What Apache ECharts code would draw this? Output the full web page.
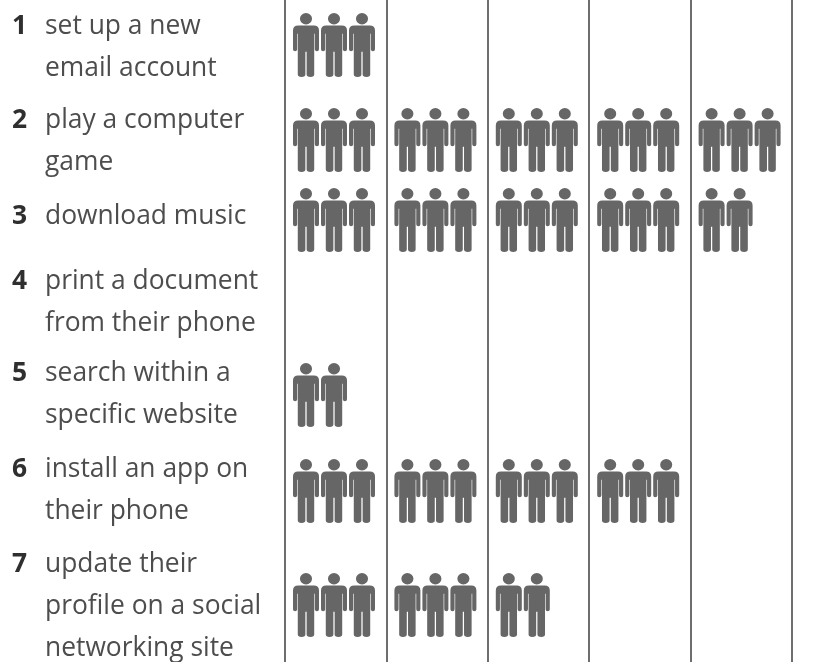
<!DOCTYPE html>
<html><head><meta charset="utf-8">
<style>html,body{margin:0;padding:0;background:#fff}#c{width:823px;height:662px}</style>
<script src="https://cdn.jsdelivr.net/npm/echarts@6/dist/echarts.min.js"></script>
</head><body><div id="c"></div>
<script>
const categories = ["set up a new\nemail account","play a computer\ngame","download music","print a document\nfrom their phone","search within a\nspecific website","install an app on\ntheir phone","update their\nprofile on a social\nnetworking site"];
const peopleCounts = [3,15,14,0,2,12,8];
const rowCenters = [45,140,220,300,395,491,605];
const labelTops = [5,99,195,260,352,448,543];
const PEOPLE_PER_COLUMN = 3;
const COLUMNS = 5;
const personPath = "path://M12.5 0A5.8 5.8 0 1 1 12.5 11.6A5.8 5.8 0 1 1 12.5 0ZM5 12.6H20Q25 12.6 25 17.6V36.5Q25 38.5 23 38.5Q21 38.5 21 36.5V21H20.4V62Q20.4 64.5 16.8 64.5Q13.1 64.5 13.1 62V39H11.9V62Q11.9 64.5 8.2 64.5Q4.6 64.5 4.6 62V21H4V36.5Q4 38.5 2 38.5Q0 38.5 0 36.5V17.6Q0 12.6 5 12.6Z";

const points = [];
peopleCounts.forEach((n,row)=>{
  for(let i=0;i<n;i++){
    const col=Math.floor(i/PEOPLE_PER_COLUMN), slot=i%PEOPLE_PER_COLUMN;
    points.push([col+(21+28*slot)/101.4, rowCenters[row]]);
  }
});
const labels = categories.map((t,i)=>[
 {type:'text',left:12,top:labelTops[i],style:{text:String(i+1),font:'bold 26.4px "Open Sans"',fill:'#2f2f2f',lineHeight:42}},
 {type:'text',left:45,top:labelTops[i],style:{text:t,font:'26.4px "Open Sans"',fill:'#4d4d4d',lineHeight:42}}
]).flat();
const chart = echarts.init(document.getElementById('c'));
chart.setOption({
  animation:false,
  backgroundColor:'#fff',
  grid:{left:285,right:31,top:0,bottom:0},
  xAxis:{type:'value',min:0,max:COLUMNS,interval:1,axisLine:{show:false},axisTick:{show:false},axisLabel:{show:false},
    splitLine:{show:true,lineStyle:{color:'#4a4a4a',width:1.6}}},
  yAxis:{type:'value',min:0,max:662,inverse:true,show:false,splitLine:{show:false}},
  series:[{type:'scatter',data:points,symbol:personPath,symbolSize:[26,64],itemStyle:{color:'#666666',opacity:1},silent:true}],
  graphic:labels
});
</script></body></html>
